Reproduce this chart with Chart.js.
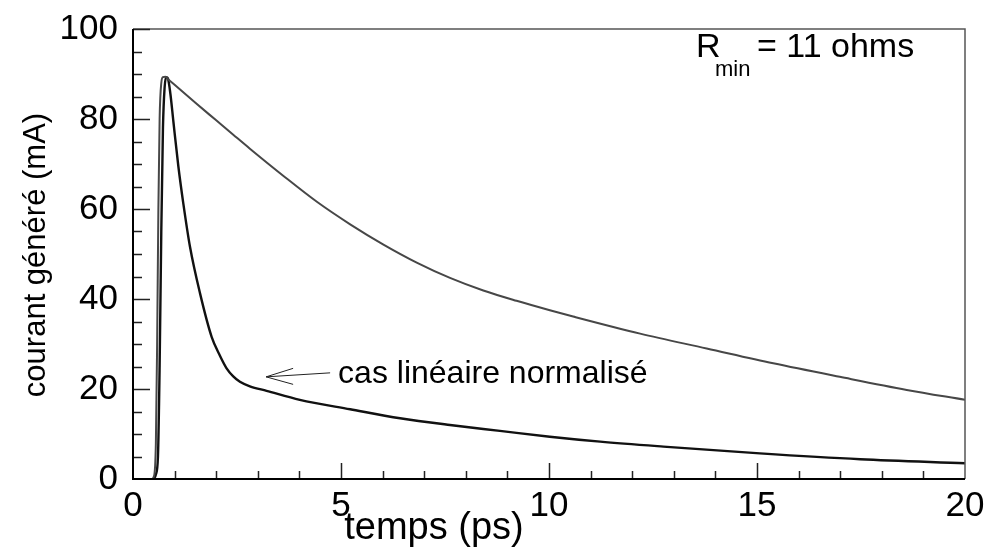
<!DOCTYPE html>
<html>
<head>
<meta charset="utf-8">
<title>courant généré</title>
<script src="https://cdn.jsdelivr.net/npm/chart.js@4.4.1/dist/chart.umd.min.js"></script>
<style>
  html, body { margin: 0; padding: 0; background: #fff; }
  #wrap { width: 986px; height: 550px; }
</style>
</head>
<body>
<div id="wrap"><canvas id="courbe" width="986" height="550"></canvas></div>
<script>
// temps (ps) et courant (mA), R_min = 11 ohms
const tempsRmin = [0.45, 0.5, 0.55, 0.58, 0.61, 0.64, 0.68, 0.72, 0.78, 0.85, 1.0, 1.5, 2.0, 2.41, 2.81, 3.61,
  4.42, 5.22, 6.02, 6.82, 7.62, 8.42, 9.22, 10.02, 10.58, 12.19, 13.79, 15.39, 16.99, 18.6, 20];
const courantRmin = [0, 0.5, 8, 30, 60, 80, 88, 89.3, 89.4, 88.8, 87.6, 83.6, 79.7, 76.5, 73.4, 67.4,
  61.6, 56.6, 52.1, 48.1, 44.7, 41.9, 39.6, 37.5, 36.1, 32.3, 29.0, 25.7, 22.7, 19.8, 17.6];

// cas linéaire normalisé
const tempsLin = [0.5, 0.55, 0.6, 0.64, 0.68, 0.72, 0.76, 0.8, 0.84, 0.9, 0.97, 1.09, 1.21, 1.37, 1.61, 1.89, 2.09,
  2.25, 2.41, 2.57, 2.81, 3.21, 4.01, 5.22, 6.42, 7.62, 8.82, 10.02, 11.23, 12.75, 15.07, 17.48, 20];
const courantLin = [0, 1, 5, 25, 55, 78, 87, 89.3, 89, 85.5, 79.5, 69.5, 61.2, 51.6, 41.3, 31.6, 27.4,
  24.6, 22.8, 21.6, 20.6, 19.6, 17.6, 15.5, 13.5, 12.0, 10.7, 9.4, 8.3, 7.2, 5.7, 4.4, 3.5];

const xTicks = [0, 5, 10, 15, 20];
const yTicks = [0, 20, 40, 60, 80, 100];

const police = 'Arial, "Liberation Sans", sans-serif';

function points(xs, ys) {
  return xs.map((x, i) => ({ x: x, y: ys[i] }));
}

// cadre, graduations intérieures, titres d'axes et annotations
const cadrePlugin = {
  id: 'cadre',
  afterDatasetsDraw(chart) {
    const ctx = chart.ctx;
    const a = chart.chartArea;
    const sx = chart.scales.x;
    const sy = chart.scales.y;
    ctx.save();

    // haut et droite
    ctx.strokeStyle = '#555';
    ctx.lineWidth = 1.5;
    ctx.beginPath();
    ctx.moveTo(a.left, a.top);
    ctx.lineTo(a.right, a.top);
    ctx.lineTo(a.right, a.bottom);
    ctx.stroke();

    // graduations
    ctx.strokeStyle = '#222';
    ctx.lineWidth = 1.5;
    ctx.beginPath();
    for (let v = 1; v < 20; v++) {
      const px = Math.round(sx.getPixelForValue(v)) + 0.5;
      const len = v % 5 === 0 ? 16 : 8;
      ctx.moveTo(px, a.bottom);
      ctx.lineTo(px, a.bottom - len);
    }
    for (let v = 5; v <= 100; v += 5) {
      const py = Math.round(sy.getPixelForValue(v)) + 0.5;
      const len = v % 20 === 0 ? 17 : 9;
      ctx.moveTo(a.left, py);
      ctx.lineTo(a.left + len, py);
    }
    ctx.stroke();

    // axes gauche et bas
    ctx.strokeStyle = '#000';
    ctx.lineWidth = 2;
    ctx.beginPath();
    ctx.moveTo(a.left, a.top);
    ctx.lineTo(a.left, a.bottom);
    ctx.lineTo(a.right, a.bottom);
    ctx.stroke();

    // titres
    ctx.fillStyle = '#000';
    ctx.font = '38px ' + police;
    ctx.textAlign = 'center';
    ctx.textBaseline = 'alphabetic';
    ctx.fillText('temps (ps)', 434, 539);

    ctx.save();
    ctx.translate(45, 255);
    ctx.rotate(-Math.PI / 2);
    ctx.font = '31px ' + police;
    ctx.fillText('courant généré (mA)', 0, 0);
    ctx.restore();

    // R_min = 11 ohms
    ctx.textAlign = 'left';
    ctx.font = '34px ' + police;
    ctx.fillText('R', 696, 57);
    ctx.font = '22px ' + police;
    ctx.fillText('min', 715, 76);
    ctx.font = '34px ' + police;
    ctx.fillText('= 11 ohms', 757, 57);

    // flèche vers la courbe linéaire
    const tx = sx.getPixelForValue(3.2);
    const ty = sy.getPixelForValue(22.7);
    ctx.strokeStyle = '#222';
    ctx.lineWidth = 1;
    ctx.beginPath();
    ctx.moveTo(tx + 64, ty - 4);
    ctx.lineTo(tx, ty);
    ctx.moveTo(tx + 27, ty - 8.5);
    ctx.lineTo(tx, ty);
    ctx.lineTo(tx + 27, ty + 7.5);
    ctx.stroke();
    ctx.font = '32px ' + police;
    ctx.fillText('cas linéaire normalisé', tx + 72, ty + 6);

    ctx.restore();
  }
};

new Chart(document.getElementById('courbe'), {
  type: 'line',
  data: {
    datasets: [
      {
        label: 'R_min = 11 ohms',
        data: points(tempsRmin, courantRmin),
        borderColor: '#474747',
        borderWidth: 2,
        pointRadius: 0,
        cubicInterpolationMode: 'monotone'
      },
      {
        label: 'cas linéaire normalisé',
        data: points(tempsLin, courantLin),
        borderColor: '#111',
        borderWidth: 2.4,
        pointRadius: 0,
        cubicInterpolationMode: 'monotone'
      }
    ]
  },
  options: {
    responsive: false,
    animation: false,
    devicePixelRatio: 1,
    layout: { padding: { top: 29, right: 21, left: 0, bottom: 0 } },
    plugins: { legend: { display: false }, tooltip: { enabled: false } },
    scales: {
      x: {
        type: 'linear',
        min: 0,
        max: 20,
        afterBuildTicks: (s) => { s.ticks = xTicks.map(v => ({ value: v })); },
        afterFit: (s) => {
          s.height = 71;
          s.paddingLeft = 0;
          s.paddingRight = 0;
        },
        grid: { display: false, drawTicks: false },
        border: { display: false },
        ticks: { color: '#000', font: { family: police, size: 35 }, padding: 6, maxRotation: 0 }
      },
      y: {
        type: 'linear',
        min: 0,
        max: 100,
        afterBuildTicks: (s) => { s.ticks = yTicks.map(v => ({ value: v })); },
        afterFit: (s) => {
          s.width = 133;
          s.paddingTop = 0;
          s.paddingBottom = 0;
        },
        grid: { display: false, drawTicks: false },
        border: { display: false },
        ticks: { color: '#000', font: { family: police, size: 35 }, padding: 15 }
      }
    }
  },
  plugins: [cadrePlugin]
});
</script>
</body>
</html>
